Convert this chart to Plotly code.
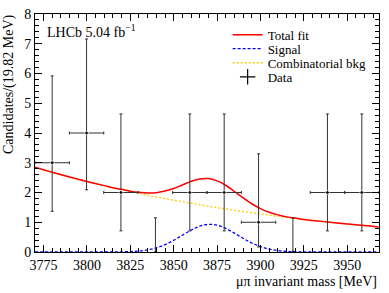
import plotly.graph_objects as go

# ---- data ----
bin_centers = [3780.0, 3799.8, 3819.6, 3839.5, 3859.3, 3879.1, 3898.9, 3918.7, 3938.6, 3958.4]
counts = [3, 4, 2, 0, 2, 2, 1, 0, 2, 2]
err_up = [2.92, 3.16, 2.64, 1.15, 2.64, 2.64, 2.30, 1.15, 2.64, 2.64]
err_down = [1.63, 1.91, 1.29, 0.0, 1.29, 1.29, 0.83, 0.0, 1.29, 1.29]
bin_half_width = 9.91

bkg_x = [3770, 3780, 3790, 3800, 3810, 3815, 3820, 3825, 3830, 3835, 3840, 3845,
         3850, 3855, 3860, 3865, 3870, 3875, 3880, 3885, 3890, 3895, 3900, 3905,
         3910, 3915, 3920, 3925, 3930, 3940, 3950, 3960, 3968]
bkg_y = [2.85, 2.68, 2.52, 2.37, 2.23, 2.16, 2.10, 2.03, 1.97, 1.91, 1.85, 1.80,
         1.74, 1.69, 1.64, 1.59, 1.54, 1.49, 1.45, 1.40, 1.36, 1.32, 1.28, 1.24,
         1.20, 1.16, 1.13, 1.09, 1.06, 1.00, 0.94, 0.89, 0.84]

sig_x = bkg_x
sig_y = [0.0, 0.0, 0.0, 0.0, 0.001, 0.002, 0.006, 0.015, 0.035, 0.074, 0.142, 0.248,
         0.393, 0.564, 0.734, 0.867, 0.928, 0.901, 0.794, 0.634, 0.459, 0.302, 0.180, 0.097,
         0.048, 0.021, 0.009, 0.003, 0.001, 0.0, 0.0, 0.0, 0.0]

x_range = [3770.1, 3968.3]
y_range = [0, 8]

tot_y = [b + s for b, s in zip(bkg_y, sig_y)]

FONT = "Liberation Serif"

fig = go.Figure()

fig.add_trace(go.Scatter(
    x=bkg_x, y=bkg_y, mode="lines", name="Combinatorial bkg", legend="legend3",
    line=dict(color="#ffcc00", width=1.3, dash="2px,2px", shape="spline"),
))
fig.add_trace(go.Scatter(
    x=sig_x, y=sig_y, mode="lines", name="Signal", legend="legend2",
    line=dict(color="#0000ff", width=1.3, dash="3px,2px", shape="spline"),
))
fig.add_trace(go.Scatter(
    x=sig_x, y=tot_y, mode="lines", name="Total fit", legend="legend",
    line=dict(color="#ff0000", width=1.5, shape="spline"),
))

xerr = [bin_half_width if c > 0 else 0 for c in counts]
msize = [4 if c > 0 else 0 for c in counts]
fig.add_trace(go.Scatter(
    x=bin_centers, y=counts, mode="markers", name="Data", showlegend=False,
    marker=dict(color="black", size=msize),
    error_y=dict(type="data", symmetric=False, array=err_up, arrayminus=err_down,
                 color="#333333", thickness=1, width=1.5),
    error_x=dict(type="data", array=xerr, color="#333333", thickness=1, width=1.5),
))
# legend-only entry for data (cross symbol like ROOT)
fig.add_trace(go.Scatter(
    x=[None], y=[None], mode="markers", name="Data", legend="legend4",
    marker=dict(symbol="cross-thin", size=11, color="black", line=dict(color="black", width=1.2)),
))

axis_common = dict(
    showgrid=False, zeroline=False, showline=True, linecolor="black", linewidth=1,
    mirror="ticks", ticks="inside", ticklen=7, tickcolor="black", tickwidth=1,
    tickfont=dict(family=FONT, size=14, color="black"), automargin=False,
)
fig.update_xaxes(range=x_range, dtick=25, tick0=3775,
                 minor=dict(dtick=5, ticks="inside", ticklen=4, tickcolor="black"),
                 **axis_common)
fig.update_yaxes(range=y_range, dtick=1,
                 minor=dict(dtick=0.2, ticks="inside", ticklen=4, tickcolor="black"),
                 **axis_common)


def leg(ypos):
    return dict(x=0.56, y=ypos, xanchor="left", yanchor="middle",
                bgcolor="rgba(0,0,0,0)", borderwidth=0,
                font=dict(family=FONT, size=13, color="black"),
                itemwidth=30, tracegroupgap=0)


fig.update_layout(
    width=389, height=293,
    margin=dict(l=35, r=10, t=14, b=41),
    paper_bgcolor="white", plot_bgcolor="white",
    font=dict(family=FONT, size=13, color="black"),
    legend=leg(0.913),
    legend2=leg(0.854),
    legend3=leg(0.795),
    legend4=leg(0.736),
    annotations=[
        dict(text="LHCb 5.04 fb<sup>\u22121</sup>", xref="paper", yref="paper",
             x=0.03, y=0.975, xanchor="left", yanchor="top", showarrow=False,
             font=dict(family=FONT, size=14, color="black")),
        dict(text="\u03bc\u03c0 invariant mass [MeV]", xref="paper", yref="paper",
             x=1.0, y=0, yshift=-20, xanchor="right", yanchor="top", showarrow=False,
             font=dict(family=FONT, size=14, color="black")),
        dict(text="Candidates/(19.82 MeV)", xref="paper", yref="paper",
             x=0, xshift=-16, y=1.0, yshift=2, xanchor="right", yanchor="top", textangle=-90,
             showarrow=False, font=dict(family=FONT, size=14, color="black")),
    ],
)

fig.write_html("out.html", config={"displayModeBar": False},
               post_script="document.body.style.margin='0';document.body.style.overflow='hidden';")
